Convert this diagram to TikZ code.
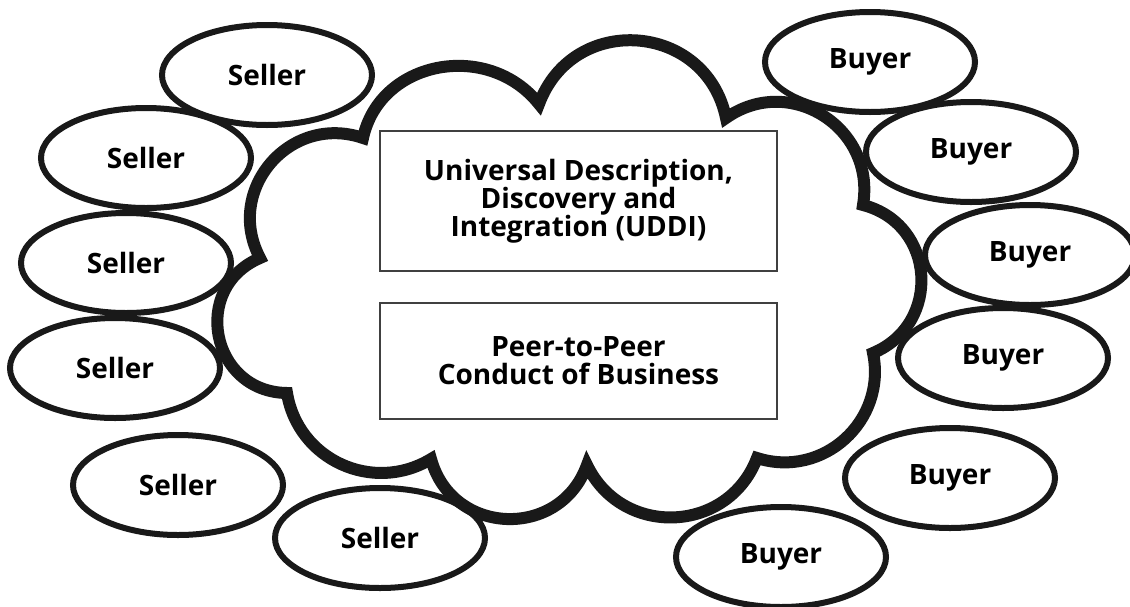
\documentclass[tikz,border=0pt]{standalone}
\usepackage{fontspec}
\setmainfont{Open Sans}
\usetikzlibrary{shapes.geometric}

\begin{document}
\begin{tikzpicture}[x=1pt,y=-1pt,
    party/.style={ellipse,draw=black!90,line width=6pt,minimum width=210pt,minimum height=100pt,inner sep=0pt,font=\fontsize{28}{28}\selectfont\bfseries},
    panel/.style={rectangle,draw=black!75,line width=1.6pt,minimum width=397pt,align=center,inner sep=0pt,font=\fontsize{28}{28}\selectfont\bfseries}]
    \clip (0,0) rectangle (1130,606);
    \fill[white] (0,0) rectangle (1130,606);
    \draw[line width=12pt,draw=black!90,fill=white] (363,138)
        .. controls (380,60) and (488,40) .. (539,104)
        .. controls (573,12) and (706,22) .. (726,118)
        .. controls (790,73) and (876,128) .. (863,205)
        .. controls (936,224) and (942,324) .. (873,353)
        .. controls (887,421) and (823,479) .. (757,458)
        .. controls (728,534) and (622,538) .. (587,465)
        .. controls (560,540) and (452,536) .. (431,459)
        .. controls (373,494) and (298,460) .. (287,393)
        .. controls (211,392) and (190,288) .. (260,258)
        .. controls (224,190) and (290,113) .. cycle;
    \node[party] (s1) at (267,75) {Seller};
    \node[party] (s2) at (146,158) {Seller};
    \node[party] (s3) at (126,263) {Seller};
    \node[party] (s4) at (115,368) {Seller};
    \node[party] (s5) at (178,485) {Seller};
    \node[party] (s6) at (380,538) {Seller};
    \node[party] (b1) at (870,62) {Buyer};
    \node[party] (b2) at (971,152) {Buyer};
    \node[party] (b3) at (1030,255) {Buyer};
    \node[party] (b4) at (1003,358) {Buyer};
    \node[party] (b5) at (950,478) {Buyer};
    \node[party] (b6) at (781,557) {Buyer};
    \node[panel,minimum height=140pt] (uddi) at (578.5,201) {Universal Description,\\Discovery and\\Integration (UDDI)};
    \node[panel,minimum height=116pt] (p2p) at (578.5,361) {Peer-to-Peer\\Conduct of Business};
\end{tikzpicture}
\end{document}
